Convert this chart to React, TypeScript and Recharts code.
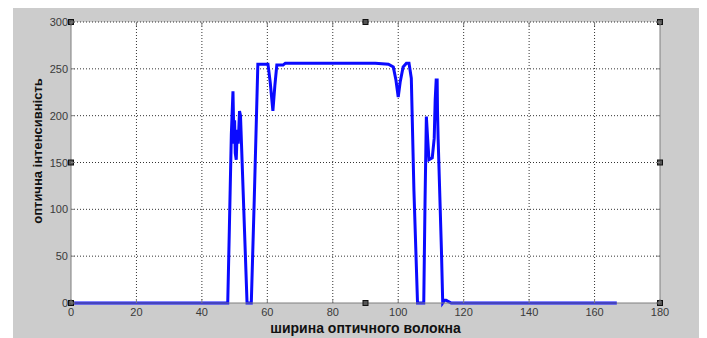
import React from 'react';
import { LineChart, Line, XAxis, YAxis, CartesianGrid, ReferenceLine, ReferenceDot } from 'recharts';

// fibre width positions (x) and optical intensity (y)
const widthPos = [
  0, 47.9, 48.4, 49.0, 49.5, 49.8, 50.0, 50.2, 50.5, 50.8, 51.1, 51.5, 51.8, 52.6, 53.8, 55.1, 56.0, 57.1,
  60.2, 60.9, 61.7, 62.3, 62.9, 64.8, 65.5, 93, 97, 98.5, 99.3, 100, 100.6, 101.5, 102.5, 103.3, 104, 104.8,
  105.9, 107.8, 108.2, 108.6, 109.0, 109.4, 110.4, 111.0, 111.3, 111.6, 111.9, 112.0, 112.2, 113.2, 113.6,
  114.2, 114.6, 115.1, 116.2, 166.8,
];
const intensity = [
  0, 0, 80, 180, 226, 170, 195, 160, 153, 185, 170, 205, 200, 120, 0, 0, 110, 255,
  255, 235, 205, 232, 254, 254, 256, 256, 255, 252, 238, 220, 236, 252, 256, 256, 240, 120,
  0, 0, 110, 199, 175, 153, 155, 176, 217, 238, 238, 206, 175, 57, 0,
  3, 3, 2, 0, 0,
];
const xTicks = [0, 20, 40, 60, 80, 100, 120, 140, 160, 180];
const yTicks = [0, 50, 100, 150, 200, 250, 300];
const xGrid = [20, 40, 60, 80, 100, 120, 140, 160];
const yGrid = [50, 100, 150, 200, 250, 300];
const handleXs = [0, 90, 180];
const handleYs = [0, 150, 300];

const xLabel = 'ширина оптичного волокна';
const yLabel = 'оптична інтенсивність';

const data = widthPos.map((x, i) => ({ x, y: intensity[i] }));

const W = 694;
const H = 330;
const PL = 58;
const PT = 14;
const PR = 647;
const PB = 295;
const TICK = 4;
const AXIS = '#7f7f7f';
const GRID = '#333333';
const FONT = '"Liberation Sans", Arial, sans-serif';

const XTick = (props: any) => {
  const { x, payload } = props;
  return (
    <g>
      <line x1={x} x2={x} y1={PB} y2={PB - TICK} stroke={AXIS} />
      <line x1={x} x2={x} y1={PT} y2={PT + TICK} stroke={AXIS} />
      <text x={x} y={PB + 13} textAnchor="middle" fontSize={11} fill="#3a3a3a" fontFamily={FONT}>
        {payload.value}
      </text>
    </g>
  );
};

const YTick = (props: any) => {
  const { y, payload } = props;
  return (
    <g>
      <line x1={PL} x2={PL + TICK} y1={y} y2={y} stroke={AXIS} />
      <line x1={PR - TICK} x2={PR} y1={y} y2={y} stroke={AXIS} />
      <text x={PL - 3} y={y + 4} textAnchor="end" fontSize={11} fill="#3a3a3a" fontFamily={FONT}>
        {payload.value}
      </text>
    </g>
  );
};

const Handle = (props: any) => {
  const { cx, cy } = props;
  return <rect x={cx - 2.5} y={cy - 2.5} width={5} height={5} fill="#555" stroke="#111" strokeWidth={1} />;
};

export default function App() {
  const handles: { x: number; y: number }[] = [];
  handleXs.forEach((hx) =>
    handleYs.forEach((hy) => {
      if (hx !== 90 || hy !== 150) handles.push({ x: hx, y: hy });
    })
  );
  return (
    <div style={{ marginLeft: 5, width: W, height: H, background: '#cccccc', position: 'relative' }}>
      <LineChart width={W} height={H} data={data} margin={{ top: PT, right: W - PR, left: PL - 40, bottom: 0 }}>
        <CartesianGrid stroke="none" fill="#ffffff" horizontal={false} vertical={false} />
        <XAxis
          dataKey="x"
          type="number"
          domain={[0, 180]}
          ticks={xTicks}
          interval={0}
          height={35}
          axisLine={{ stroke: AXIS }}
          tickLine={false}
          tick={<XTick />}
          label={{
            value: xLabel,
            position: 'insideBottom',
            offset: 5,
            fontSize: 14,
            fontWeight: 'bold',
            fill: '#111',
            fontFamily: FONT,
          }}
        />
        <YAxis
          type="number"
          domain={[0, 300]}
          ticks={yTicks}
          interval={0}
          width={40}
          axisLine={{ stroke: AXIS }}
          tickLine={false}
          tick={<YTick />}
          label={{
            content: () => (
              <text
                x={24}
                y={143}
                transform={`rotate(-90 24 143)`}
                textAnchor="middle"
                dominantBaseline="central"
                fontSize={13}
                fontWeight="bold"
                fill="#111"
                fontFamily={FONT}
              >
                {yLabel}
              </text>
            ),
          }}
        />
        {xGrid.map((gx) => (
          <ReferenceLine key={'gx' + gx} x={gx} stroke={GRID} strokeDasharray="1 2" strokeWidth={1} />
        ))}
        {yGrid.map((gy) => (
          <ReferenceLine key={'gy' + gy} y={gy} stroke={GRID} strokeDasharray="1 2" strokeWidth={1} />
        ))}
        <ReferenceLine x={180} stroke={AXIS} strokeWidth={1} />
        <Line
          type="linear"
          dataKey="y"
          stroke="#0a0aff"
          strokeWidth={3}
          dot={false}
          isAnimationActive={false}
        />
        {handles.map((h, i) => (
          <ReferenceDot key={i} x={h.x} y={h.y} r={3} shape={<Handle />} ifOverflow="visible" />
        ))}
      </LineChart>
    </div>
  );
}
